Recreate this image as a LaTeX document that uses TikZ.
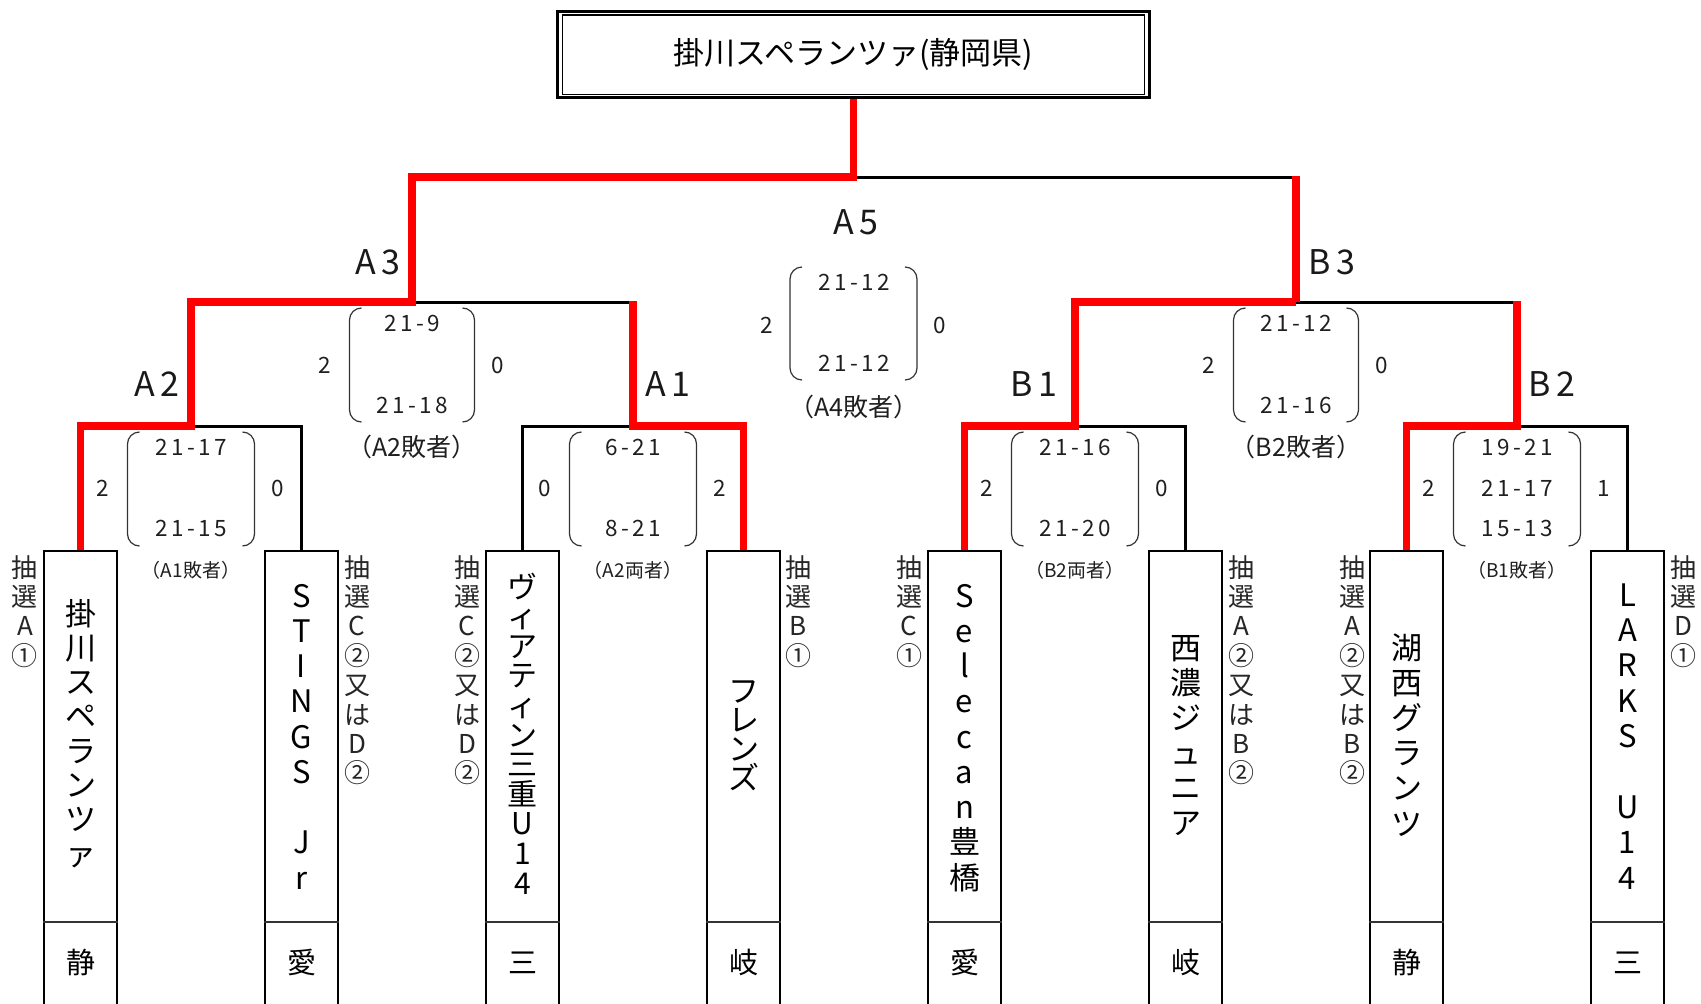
\documentclass[tikz,border=0pt]{standalone}
\usepackage{fontspec}
\setmainfont{Noto Sans CJK JP}
\newfontfamily\spacedfont{Noto Sans CJK JP}[LetterSpace=15]
\usetikzlibrary{calc}
\tikzset{
  blk/.style={line width=3pt, black, line join=miter},
  redl/.style={line width=7.5pt, red, line join=miter},
  teambox/.style={draw, line width=1.5pt, minimum width=73pt, minimum height=456pt, inner sep=0pt, anchor=north},
  divider/.style={line width=2pt, black!80},
  vchar/.style={anchor=base, inner sep=0pt},
  lot/.style={text=black!85},
  tname/.style={text=black},
  brk/.style={line width=1.2pt, black!80, rounded corners=12pt},
  score/.style={font=\spacedfont\fontsize{22.5}{22.5}\selectfont, text=black!88, inner sep=0pt},
  lbla/.style={font=\fontsize{19}{19}\selectfont, text=black!88, inner sep=0pt},
  lblb/.style={font=\fontsize{25}{25}\selectfont, text=black!88, inner sep=0pt},
  rnd/.style={font=\spacedfont\fontsize{34}{34}\selectfont, text=black!90, inner sep=0pt},
  pref/.style={font=\fontsize{29}{29}\selectfont, anchor=base, inner sep=0pt},
  titlebox/.style={draw, line width=3pt, minimum width=592pt, minimum height=86.5pt, inner sep=0pt, font=\fontsize{31}{31}\selectfont}
}
\newcommand\vstack[7]{%
  \foreach \ch [count=\i from 0] in {#6} {
    \node[vchar, #7, font=\fontsize{#5}{#5}\selectfont] (#1-\i) at (#2, {#3+\i*#4}) {\ch};
  }}
\newcommand\scorebrk[4]{%
  \draw[brk] ({#1-#4+12},#2) -- ({#1-#4},#2) -- ({#1-#4},#3) -- ({#1-#4+12},#3);
  \draw[brk] ({#1+#4-12},#2) -- ({#1+#4},#2) -- ({#1+#4},#3) -- ({#1+#4-12},#3);
}
\begin{document}
\begin{tikzpicture}[x=1pt,y=-1pt]
\fill[white] (0,0) rectangle (1701,1004);
\useasboundingbox (0,0) rectangle (1701,1004);

% title
\node[titlebox] (title) at (853.5,54.25) {掛川スペランツァ(静岡県)};
\draw[line width=1.5pt] ($(title.north west)+(6.5,5.5)$) rectangle ($(title.south east)+(-6.5,-4.5)$);

% team boxes
\coordinate (divy) at (0,922);
\foreach \n/\x in {t1/80.5,t2/301.5,t3/522.5,t4/743.5,t5/964.5,t6/1185.5,t7/1406.5,t8/1627.5} {
  \node[teambox] (\n) at (\x,550) {};
  \draw[divider] (\n.west |- divy) -- (\n.east |- divy);
}

% junctions
\coordinate (jA2) at (191,426);
\coordinate (jA1) at (633,426);
\coordinate (jB1) at (1075,426);
\coordinate (jB2) at (1517,426);
\coordinate (jA3) at (412,302);
\coordinate (jB3) at (1296,302);
\coordinate (jA5) at (853.5,177);

% black (losers)
\draw[blk] (t2.north) |- (jA2);
\draw[blk] (t3.north) |- (jA1);
\draw[blk] (t6.north) |- (jB1);
\draw[blk] (t8.north) |- (jB2);
\draw[blk] (jA1) |- (jA3);
\draw[blk] (jB2) |- (jB3);
\draw[blk] (jB3) |- (jA5);

% red (winners)
\draw[redl] (t1.north) |- (jA2) |- (jA3) |- (jA5) -- (title.south);
\draw[redl, shorten >=-1.5pt] (t4.north) |- (jA1) -- (jA1 |- jA3);
\draw[redl] (t5.north) |- (jB1) |- (jB3);
\draw[redl, shorten >=-1.5pt] (jB3) -- (jB3 |- jA5);
\draw[redl, shorten >=-1.5pt] (t7.north) |- (jB2) -- (jB2 |- jB3);

% team names
\vstack{n1}{80.5}{625}{34.3}{31}{掛,川,ス,ペ,ラ,ン,ツ,ァ}{tname}
\vstack{n2}{301.5}{607}{35.25}{31}{S,T,I,N,G,S,{},J,r}{tname}
\vstack{n3}{522.5}{598}{29.6}{30}{ヴ,ィ,ア,テ,ィ,ン,三,重,U,1,4}{tname}
\vstack{n4}{743.5}{702}{29}{31}{フ,レ,ン,ズ}{tname}
\vstack{n5}{964.5}{607}{35.25}{31}{S,e,l,e,c,a,n,豊,橋}{tname}
\vstack{n6}{1185.5}{659}{35}{31}{西,濃,ジ,ュ,ニ,ア}{tname}
\vstack{n7}{1406.5}{659}{35.2}{31}{湖,西,グ,ラ,ン,ツ}{tname}
\vstack{n8}{1627.5}{606}{35.4}{31}{L,A,R,K,S,{},U,1,4}{tname}

% prefectures
\node[pref] (p1) at (80.5,973) {静};
\node[pref] (p2) at (301.5,973) {愛};
\node[pref] (p3) at (522.5,973) {三};
\node[pref] (p4) at (743.5,973) {岐};
\node[pref] (p5) at (964.5,973) {愛};
\node[pref] (p6) at (1185.5,973) {岐};
\node[pref] (p7) at (1406.5,973) {静};
\node[pref] (p8) at (1627.5,973) {三};

% lottery labels
\vstack{L1}{25}{577}{29.4}{26}{抽,選,A,①}{lot}
\vstack{L2}{357}{577}{29.4}{26}{抽,選,C,②,又,は,D,②}{lot}
\vstack{L3}{467}{577}{29.4}{26}{抽,選,C,②,又,は,D,②}{lot}
\vstack{L4}{798}{577}{29.4}{26}{抽,選,B,①}{lot}
\vstack{L5}{909}{577}{29.4}{26}{抽,選,C,①}{lot}
\vstack{L6}{1241}{577}{29.4}{26}{抽,選,A,②,又,は,B,②}{lot}
\vstack{L7}{1352}{577}{29.4}{26}{抽,選,A,②,又,は,B,②}{lot}
\vstack{L8}{1683}{577}{29.4}{26}{抽,選,D,①}{lot}

% level 1 matches
\scorebrk{191}{432}{546}{63.5}
\node[score] (sA2a) at (191,447) {21-17};
\node[score] (sA2b) at (191,528) {21-15};
\node[score] (wA2l) at (103,488) {2};
\node[score] (wA2r) at (278,488) {0};
\node[lbla] (xA2) at (191,570) {（A1敗者）};

\scorebrk{633}{432}{546}{63.5}
\node[score] (sA1a) at (633,447) {6-21};
\node[score] (sA1b) at (633,528) {8-21};
\node[score] (wA1l) at (545,488) {0};
\node[score] (wA1r) at (720,488) {2};
\node[lbla] (xA1) at (633,570) {（A2両者）};

\scorebrk{1075}{432}{546}{63.5}
\node[score] (sB1a) at (1075,447) {21-16};
\node[score] (sB1b) at (1075,528) {21-20};
\node[score] (wB1l) at (987,488) {2};
\node[score] (wB1r) at (1162,488) {0};
\node[lbla] (xB1) at (1075,570) {（B2両者）};

\scorebrk{1517}{432}{546}{63.5}
\node[score] (sB2a) at (1517,447) {19-21};
\node[score] (sB2b) at (1517,488) {21-17};
\node[score] (sB2c) at (1517,528) {15-13};
\node[score] (wB2l) at (1429,488) {2};
\node[score] (wB2r) at (1604,488) {1};
\node[lbla] (xB2) at (1517,570) {（B1敗者）};

% level 2 matches
\scorebrk{412}{308}{422}{62.5}
\node[score] (sA3a) at (412,323) {21-9};
\node[score] (sA3b) at (412,405) {21-18};
\node[score] (wA3l) at (325,365) {2};
\node[score] (wA3r) at (498,365) {0};
\node[lblb] (xA3) at (412,447) {（A2敗者）};

\scorebrk{1296}{308}{422}{62.5}
\node[score] (sB3a) at (1296,323) {21-12};
\node[score] (sB3b) at (1296,405) {21-16};
\node[score] (wB3l) at (1209,365) {2};
\node[score] (wB3r) at (1382,365) {0};
\node[lblb] (xB3) at (1296,447) {（B2敗者）};

% level 3 match
\scorebrk{853.5}{267}{380}{63.5}
\node[score] (sA5a) at (854,282) {21-12};
\node[score] (sA5b) at (854,363) {21-12};
\node[score] (wA5l) at (767,325) {2};
\node[score] (wA5r) at (940,325) {0};
\node[lblb] (xA5) at (854,407) {（A4敗者）};

% round labels
\node[rnd] (rA5) at (856,222) {A5};
\node[rnd] (rA3) at (378,262) {A3};
\node[rnd] (rB3) at (1332,262) {B3};
\node[rnd] (rA2) at (157,384) {A2};
\node[rnd] (rA1) at (668,384) {A1};
\node[rnd] (rB1) at (1034,384) {B1};
\node[rnd] (rB2) at (1552,384) {B2};
\end{tikzpicture}
\end{document}
